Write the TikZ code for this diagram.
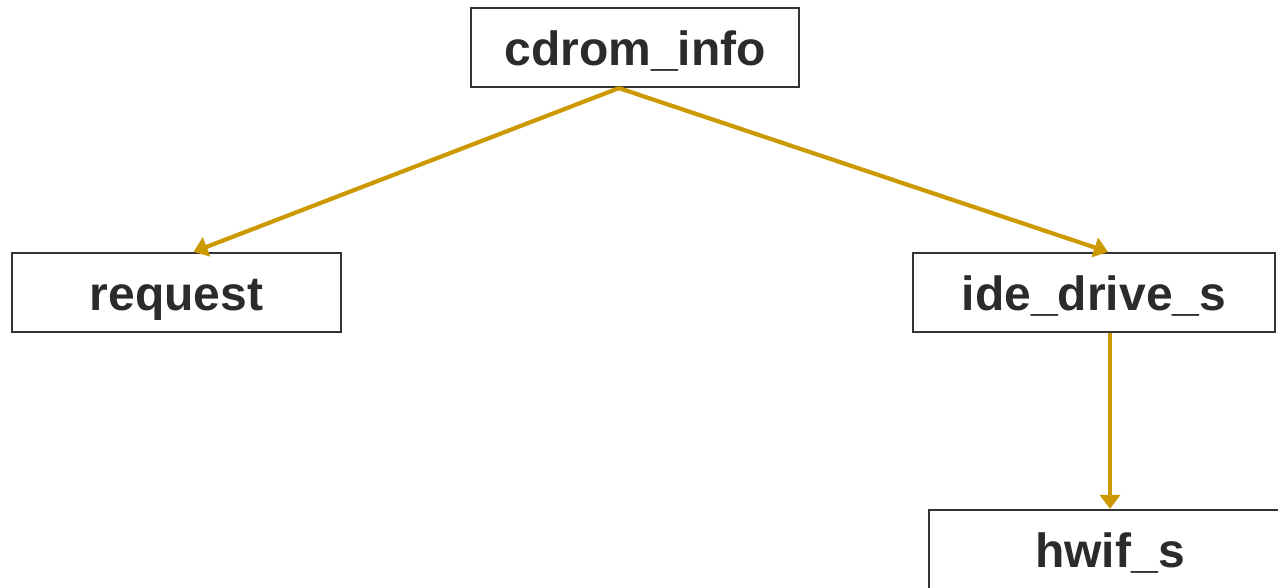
\documentclass[tikz,border=0pt]{standalone}
\usepackage{fontspec}
\setmainfont{Liberation Sans}
\usetikzlibrary{arrows.meta}
\definecolor{boxline}{HTML}{333333}
\definecolor{boxtext}{HTML}{2B2B2B}
\definecolor{link}{HTML}{CC9900}
\begin{document}
\begin{tikzpicture}[x=1pt,y=-1pt,
  structbox/.style={draw=boxline,line width=2.2pt,fill=white,inner sep=0pt,
    minimum height=79pt,text=boxtext,
    font=\fontsize{48}{50}\selectfont\bfseries,
    text height=38pt,text depth=2pt},
  linkarrow/.style={draw=link,line width=4.2pt,
    -{Triangle[length=14pt,width=20pt]}}]
\useasboundingbox (0,0) rectangle (1278,588);
\node[structbox,minimum width=328pt] (cd) at (635,47.5) {cdrom\_info};
\node[structbox,minimum width=329pt] (rq) at (176.5,292.5) {request};
\node[structbox,minimum width=362pt] (ide) at (1094,292.5) {ide\_drive\_s};
\node[structbox,minimum width=362pt] (hw) at (1110,549.5) {hwif\_s};
\draw[linkarrow] ([xshift=-16pt]cd.south) -- ([xshift=17pt]rq.north);
\draw[linkarrow] ([xshift=-16pt]cd.south) -- ([xshift=14pt]ide.north);
\draw[linkarrow] ([xshift=16pt]ide.south) -- (hw.north);
\end{tikzpicture}
\end{document}
